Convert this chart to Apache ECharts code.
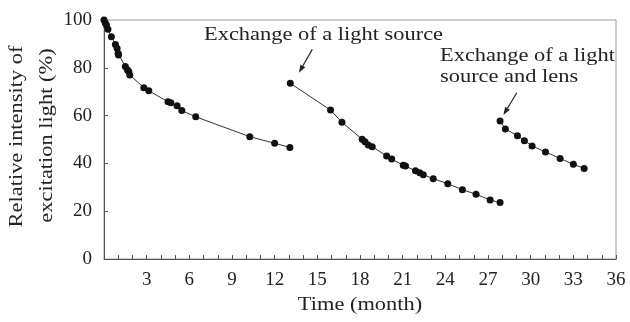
<!DOCTYPE html>
<html>
<head>
<meta charset="utf-8">
<script src="https://cdn.jsdelivr.net/npm/echarts@6/dist/echarts.min.js"></script>
<style>
html,body{margin:0;padding:0;background:#fff;}
#c{width:630px;height:322px;}
</style>
</head>
<body>
<div id="c"></div>
<script>
// Segment 1: original light source
var seg1Month = [0, 0.1, 0.17, 0.28, 0.52, 0.8, 0.92, 0.99, 1.02, 1.5, 1.65, 1.74, 1.81, 2.8, 3.15, 4.5, 4.7, 5.14, 5.47, 6.45, 10.25, 12.0, 13.07];
var seg1Value = [100, 98.6, 97.9, 96.1, 93.0, 89.8, 88.2, 86.1, 85.4, 80.5, 79.1, 78.4, 77.0, 71.7, 70.4, 65.8, 65.4, 64.1, 62.1, 59.5, 51.2, 48.4, 46.7];
// Segment 2: after exchange of a light source
var seg2Month = [13.1, 15.93, 16.73, 18.15, 18.35, 18.58, 18.86, 19.87, 20.23, 21.04, 21.2, 21.9, 22.2, 22.45, 23.15, 24.17, 25.2, 26.16, 27.15, 27.85];
var seg2Value = [73.5, 62.3, 57.2, 50.1, 49.1, 47.7, 47.0, 43.1, 41.8, 39.2, 38.9, 36.9, 36.1, 35.3, 33.6, 31.5, 29.0, 27.1, 24.7, 23.6];
// Segment 3: after exchange of a light source and lens
var seg3Month = [27.85, 28.22, 29.07, 29.56, 30.1, 31.04, 32.07, 33.0, 33.76];
var seg3Value = [57.7, 54.4, 51.6, 49.5, 47.3, 44.8, 42.1, 39.6, 37.9];

var xLabels = [3, 6, 9, 12, 15, 18, 21, 24, 27, 30, 33, 36];
var yLabels = [0, 20, 40, 60, 80, 100];
var annotation1 = 'Exchange of a light source';
var annotation2 = ['Exchange of a light', 'source and lens'];
var xName = 'Time (month)';
var yName = ['Relative intensity of', 'excitation light (%)'];

function pairs(xs, ys) { return xs.map(function (x, i) { return [x, ys[i]]; }); }

var FONT = '"Liberation Serif", "Times New Roman", serif';
var TXT = '#222';
var WIDE = 1.18;
var chart = echarts.init(document.getElementById('c'), null, { renderer: 'canvas' });

function seriesOf(xs, ys) {
  return {
    type: 'line',
    data: pairs(xs, ys),
    symbol: 'circle',
    symbolSize: 7,
    itemStyle: { color: '#111' },
    lineStyle: { color: '#333', width: 1 },
    animation: false,
    emphasis: { disabled: true }
  };
}

chart.setOption({
  animation: false,
  grid: { left: 104, right: 14, top: 20, bottom: 63, show: true, borderColor: '#9a9a9a', borderWidth: 1 },
  xAxis: {
    type: 'value', min: 0, max: 36, interval: 1,
    axisLine: { lineStyle: { color: '#555', width: 1 } },
    axisTick: { inside: true, length: 4, lineStyle: { color: '#555' } },
    splitLine: { show: false },
    axisLabel: {
      fontFamily: FONT, fontSize: 19, color: TXT, margin: 12,
      formatter: function (v) { return xLabels.indexOf(v) >= 0 ? String(v) : ''; }
    }
  },
  yAxis: {
    type: 'value', min: 0, max: 100, interval: 20,
    axisLine: { show: true, lineStyle: { color: '#555', width: 1 } },
    axisTick: { inside: true, length: 4, lineStyle: { color: '#555' } },
    splitLine: { show: false },
    axisLabel: {
      fontFamily: FONT, fontSize: 19, color: TXT, margin: 12,
      formatter: function (v) { return yLabels.indexOf(v) >= 0 ? String(v) : ''; }
    }
  },
  series: [seriesOf(seg1Month, seg1Value), seriesOf(seg2Month, seg2Value), seriesOf(seg3Month, seg3Value)]
});

function arrow(p, tail, tip) {
  var sx = p[0] + tail[0], sy = p[1] + tail[1];
  var ex = p[0] + tip[0], ey = p[1] + tip[1];
  var dx = ex - sx, dy = ey - sy, L = Math.sqrt(dx * dx + dy * dy);
  var ux = dx / L, uy = dy / L, hl = 8, hw = 2.8;
  var bx = ex - ux * hl, by = ey - uy * hl;
  return [
    { type: 'line', silent: true, shape: { x1: sx, y1: sy, x2: bx, y2: by }, style: { stroke: '#222', lineWidth: 1.2 } },
    { type: 'polygon', silent: true, shape: { points: [[ex, ey], [bx - uy * hw, by + ux * hw], [bx + uy * hw, by - ux * hw]] }, style: { fill: '#222' } }
  ];
}

function label(text, x, y, align, rot) {
  return {
    type: 'text', silent: true, x: x, y: y, rotation: rot || 0, scaleX: WIDE, scaleY: 1,
    style: { text: text, x: 0, y: 0, font: '19px ' + FONT, fill: TXT, align: align, verticalAlign: 'middle' }
  };
}

var p2 = chart.convertToPixel({ seriesIndex: 1 }, [seg2Month[0], seg2Value[0]]);
var p3 = chart.convertToPixel({ seriesIndex: 2 }, [seg3Month[0], seg3Value[0]]);
var g = [];
g = g.concat(arrow(p2, [22, -34], [8.6, -10.6]));
g = g.concat(arrow(p3, [16.7, -28.3], [3.3, -6]));
g.push(label(annotation1, 204, 35.5, 'left'));
g.push(label(annotation2[0], 440, 56.5, 'left'));
g.push(label(annotation2[1], 440, 77.5, 'left'));
g.push(label(xName, 360, 305, 'center'));
g.push(label(yName[0], 17.5, 136.5, 'center', Math.PI / 2));
g.push(label(yName[1], 47.5, 135.5, 'center', Math.PI / 2));
chart.setOption({ graphic: g });
</script>
</body>
</html>
